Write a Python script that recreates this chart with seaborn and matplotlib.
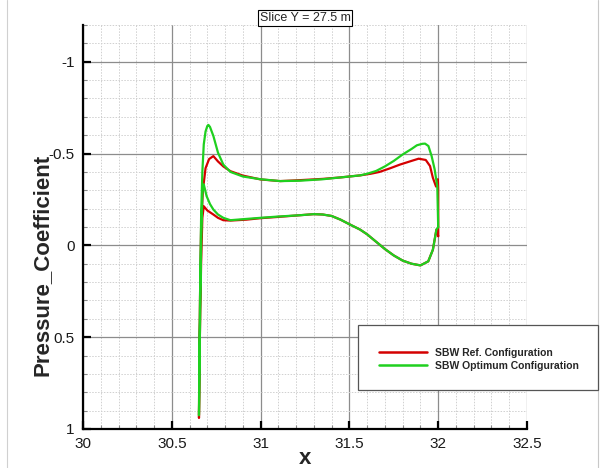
import numpy as np
import pandas as pd
import matplotlib
matplotlib.use("Agg")
import matplotlib.pyplot as plt
import seaborn as sns
from matplotlib.patches import Rectangle
from matplotlib.lines import Line2D
from matplotlib.ticker import MultipleLocator

# ---------------- data ----------------
configs = ["SBW Ref. Configuration", "SBW Optimum Configuration"]
colors = ["#d40000", "#1fd01f"]

ref_upper_x = [30.653, 30.655, 30.66, 30.665, 30.675, 30.69, 30.71, 30.734, 30.76, 30.79,
               30.83, 30.9, 31.0, 31.11, 31.22, 31.35, 31.45, 31.56, 31.62, 31.67,
               31.73, 31.785, 31.85, 31.89, 31.93, 31.954, 31.97, 31.988, 31.998, 32.0, 32.0]
ref_upper_cp = [0.94, 0.6, 0.2, -0.1, -0.3, -0.42, -0.47, -0.486, -0.457, -0.43,
                -0.404, -0.38, -0.359, -0.35, -0.355, -0.362, -0.37, -0.381, -0.39, -0.40,
                -0.42, -0.44, -0.46, -0.472, -0.465, -0.432, -0.368, -0.32, -0.36, -0.30, -0.05]
ref_lower_x = [30.653, 30.658, 30.665, 30.672, 30.68, 30.70, 30.734, 30.76, 30.79, 30.83,
               30.92, 31.0, 31.1, 31.22, 31.3, 31.35, 31.4, 31.45, 31.5, 31.56,
               31.6, 31.65, 31.7, 31.75, 31.8, 31.85, 31.9, 31.944, 31.97, 31.99, 32.0]
ref_lower_cp = [0.94, 0.5, 0.1, -0.15, -0.213, -0.19, -0.168, -0.15, -0.137, -0.135,
                -0.14, -0.148, -0.155, -0.164, -0.17, -0.168, -0.16, -0.14, -0.115, -0.086,
                -0.06, -0.02, 0.02, 0.055, 0.083, 0.10, 0.109, 0.087, 0.024, -0.086, -0.05]

opt_upper_x = [30.653, 30.655, 30.66, 30.665, 30.672, 30.68, 30.69, 30.70, 30.706, 30.715,
               30.734, 30.76, 30.79, 30.83, 30.9, 31.0, 31.11, 31.22, 31.35, 31.45,
               31.56, 31.6, 31.65, 31.7, 31.75, 31.8, 31.85, 31.88, 31.91, 31.926,
               31.945, 31.963, 31.98, 31.995, 32.0]
opt_upper_cp = [0.925, 0.6, 0.2, -0.15, -0.4, -0.55, -0.62, -0.65, -0.656, -0.645,
                -0.596, -0.505, -0.44, -0.40, -0.375, -0.36, -0.35, -0.352, -0.36, -0.37,
                -0.381, -0.39, -0.405, -0.43, -0.46, -0.495, -0.525, -0.545, -0.553, -0.554,
                -0.541, -0.486, -0.414, -0.32, -0.1]
opt_lower_x = [30.653, 30.658, 30.665, 30.672, 30.68, 30.696, 30.715, 30.734, 30.76, 30.79,
               30.83, 30.92, 31.0, 31.1, 31.22, 31.3, 31.35, 31.4, 31.45, 31.5,
               31.56, 31.6, 31.65, 31.7, 31.75, 31.8, 31.85, 31.9, 31.944, 31.97,
               31.99, 32.0]
opt_lower_cp = [0.925, 0.5, 0.0, -0.28, -0.332, -0.268, -0.225, -0.195, -0.168, -0.15,
                -0.137, -0.144, -0.15, -0.157, -0.164, -0.17, -0.168, -0.16, -0.14, -0.115,
                -0.086, -0.06, -0.02, 0.02, 0.055, 0.083, 0.10, 0.109, 0.087, 0.024,
                -0.086, -0.1]

x_ticks = [30, 30.5, 31, 31.5, 32, 32.5]
x_tick_labels = ["30", "30.5", "31", "31.5", "32", "32.5"]
y_ticks = [-1, -0.5, 0, 0.5, 1]
y_tick_labels = ["-1", "-0.5", "0", "0.5", "1"]

title_text = "Slice Y = 27.5 m"
x_label = "x"
y_label = "Pressure_Coefficient"

# build a closed loop per configuration: upper TE -> LE -> stagnation -> lower -> TE
def loop(ux, ucp, lx, lcp, name):
    xs = list(reversed(ux)) + list(lx[1:])
    cps = list(reversed(ucp)) + list(lcp[1:])
    return pd.DataFrame({"x": xs, "cp": cps, "config": name, "order": np.arange(len(xs))})

df = pd.concat([
    loop(ref_upper_x, ref_upper_cp, ref_lower_x, ref_lower_cp, configs[0]),
    loop(opt_upper_x, opt_upper_cp, opt_lower_x, opt_lower_cp, configs[1]),
], ignore_index=True)

# ---------------- figure ----------------
sns.set_theme(style="white")
plt.rcParams["font.family"] = ["Liberation Sans", "DejaVu Sans"]
plt.rcParams["axes.unicode_minus"] = False

fig = plt.figure(figsize=(6.03, 4.68), dpi=100)
ax = fig.add_axes([83 / 603, 1 - 429 / 468, (527 - 83) / 603, (429 - 25) / 468])

sns.lineplot(data=df, x="x", y="cp", hue="config", palette=dict(zip(configs, colors)),
             sort=False, estimator=None, units="config", lw=1.6, ax=ax, legend=False)

ax.set_xlim(30, 32.5)
ax.set_ylim(1, -1.2)
ax.set_xticks(x_ticks)
ax.set_xticklabels(x_tick_labels)
ax.set_yticks(y_ticks)
ax.set_yticklabels(y_tick_labels)
ax.xaxis.set_minor_locator(MultipleLocator(0.1))
ax.yaxis.set_minor_locator(MultipleLocator(0.1))

ax.grid(which="major", color="#8c8c8c", lw=0.9, ls="-")
ax.grid(which="minor", color="#d0d0d0", lw=0.7, ls=(0, (1.5, 1.5)))
ax.set_axisbelow(True)

for s in ["top", "right"]:
    ax.spines[s].set_visible(False)
for s in ["left", "bottom"]:
    ax.spines[s].set_color("black")
    ax.spines[s].set_linewidth(1.6)

ax.tick_params(which="major", direction="in", length=6, width=1.6, color="black",
               labelsize=11, labelcolor="#1a1a1a", pad=6, left=True, bottom=True)
ax.tick_params(which="minor", direction="in", length=3, width=0.8, color="#888888",
               left=True, bottom=True)

ax.set_xlabel("")
ax.set_ylabel("")
fig.text(305 / 603, 1 - 458 / 468, x_label, fontsize=16, fontweight="bold",
         ha="center", va="center")
fig.text(42 / 603, 1 - 265 / 468, y_label, fontsize=16, fontweight="bold",
         ha="center", va="center", rotation=90)

ax.set_title(title_text, fontsize=9, pad=3,
             bbox=dict(boxstyle="square,pad=0.15", fc="white", ec="black", lw=0.8))

# legend box
fig.patches.append(Rectangle((358 / 603, 1 - 390 / 468), 240 / 603, 65 / 468,
                             transform=fig.transFigure, fc="white", ec="#555555", lw=0.9,
                             zorder=5))
handles = [Line2D([], [], color=c, lw=1.8) for c in colors]
leg = fig.legend(handles, configs, loc="center left",
                 bbox_to_anchor=(374 / 603, 1 - 359.5 / 468), frameon=False,
                 prop=dict(family="Liberation Sans", weight="bold", size=7.5),
                 handlelength=4.6, handletextpad=0.8, labelspacing=0.3, borderpad=0)
leg.set_zorder(6)

# thin frame lines at figure edges
fig.add_artist(Line2D([7 / 603, 7 / 603], [0, 1], transform=fig.transFigure, color="#d0d0d0", lw=0.8))
fig.add_artist(Line2D([598 / 603, 598 / 603], [0, 1], transform=fig.transFigure, color="#c8c8c8", lw=0.8))

fig.savefig("out.png", dpi=100)
